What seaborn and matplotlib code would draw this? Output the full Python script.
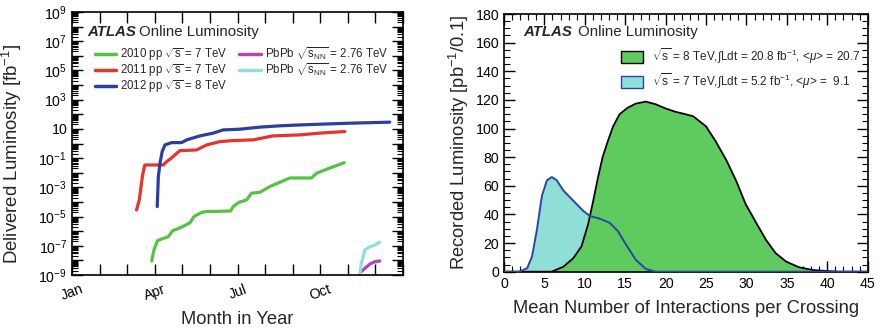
import numpy as np
import pandas as pd
import matplotlib
matplotlib.use("Agg")
import matplotlib.pyplot as plt
import matplotlib.ticker as mticker
from matplotlib.lines import Line2D
from matplotlib.patches import Patch
import seaborn as sns

# ---------------- data: left panel (month as float, log10 luminosity) -------------
m2010 = [2.89, 2.97, 3.10, 3.31, 3.49, 3.65, 3.97, 4.28, 4.42, 4.70, 4.88, 5.75, 5.84,
         6.06, 6.33, 6.51, 6.81, 7.17, 7.54, 7.90, 8.68, 8.87, 9.23, 9.59, 9.87]
l2010 = [-8.04, -7.29, -6.65, -6.49, -6.38, -5.97, -5.73, -5.42, -5.01, -4.71, -4.66, -4.62,
         -4.32, -4.02, -3.86, -3.40, -3.34, -2.95, -2.65, -2.36, -2.36, -2.03, -1.76, -1.51, -1.31]
m2011 = [2.34, 2.44, 2.56, 2.64, 3.31, 3.43, 3.55, 3.91, 4.52, 4.88, 5.36, 5.84, 6.57,
         7.29, 8.26, 8.99, 9.89]
l2011 = [-4.55, -3.86, -2.15, -1.47, -1.47, -1.24, -1.08, -0.49, -0.44, -0.10, 0.13, 0.20,
         0.25, 0.52, 0.59, 0.71, 0.82]
m2012 = [3.09, 3.13, 3.19, 3.27, 3.37, 3.61, 3.97, 4.16, 4.64, 5.12, 5.48, 6.09, 6.81,
         7.54, 8.26, 8.99, 10.07, 11.52]
l2012 = [-4.32, -2.27, -1.35, -0.55, -0.10, 0.06, 0.06, 0.25, 0.52, 0.71, 0.93, 0.98, 1.12,
         1.21, 1.27, 1.32, 1.39, 1.46]
mPb10 = [10.49, 10.62, 10.80, 10.98, 11.16]
lPb10 = [-8.77, -8.54, -8.25, -8.09, -8.04]
mPb11 = [10.43, 10.49, 10.62, 10.80, 10.98, 11.16]
lPb11 = [-9.0, -8.2, -7.29, -7.06, -6.95, -6.76]

month_ticks = [0, 3, 6, 9]
month_labels = ["Jan", "Apr", "Jul", "Oct"]

# ---------------- data: right panel (pile-up distributions) -------------
mu8 = [0, 4.5, 5.9, 7.35, 8.57, 9.59, 10.4, 11.0, 11.6, 12.2, 12.9, 13.5, 14.3, 15.3,
       16.3, 17.55, 18.8, 20.0, 21.2, 22.3, 23.4, 25.0, 26.2, 27.5, 28.7, 29.9, 31.2,
       32.4, 33.6, 34.9, 36.5, 38.2, 39.8, 41.4, 45]
lum8 = [0, 0, 0, 3.5, 9.4, 17.7, 33, 48.4, 65, 80, 92, 101.5, 110, 114.5,
        117.4, 118.8, 116.9, 114, 111.7, 110.2, 108.6, 101.5, 91, 78, 63.8, 47.2, 34.2,
        22.4, 13, 7.1, 3.1, 1.2, 0.5, 0, 0]
mu7 = [0, 1.84, 2.86, 3.47, 4.08, 4.69, 5.31, 5.92, 6.53, 7.35, 8.57, 9.8, 10.6, 11.8,
       13.06, 14.1, 15.1, 16.3, 17.55, 18.8, 45]
lum7 = [0, 0, 2.4, 10.6, 29.5, 53, 63.8, 66.1, 63.8, 56.7, 49.6, 42.5, 39, 37.1,
        34.2, 28.3, 18.9, 8.3, 1.9, 0, 0]

# ---------------- style -------------
sns.set_theme(style="ticks")
plt.rcParams["font.family"] = ["Liberation Sans", "DejaVu Sans"]
plt.rcParams["mathtext.fontset"] = "custom"
plt.rcParams["mathtext.rm"] = "Liberation Sans"
plt.rcParams["mathtext.it"] = "Liberation Sans:italic"
plt.rcParams["mathtext.bf"] = "Liberation Sans:bold"
plt.rcParams["axes.linewidth"] = 1.2
plt.rcParams["axes.edgecolor"] = "black"

fig = plt.figure(figsize=(8.82, 3.30), dpi=100)
ax1 = fig.add_axes([72/882, 1-275/330, 331/882, 263/330])
ax2 = fig.add_axes([504/882, 1-271.7/330, 363.7/882, 257.7/330])

tick_fs = 10.2
lab_fs = 13.2
atlas_fs = 10.8

# ---- left panel ----
c2010, c2011, c2012 = "#55c244", "#e8332a", "#2b3fa3"
cPb10, cPb11 = "#b544b5", "#8fe0da"
series = [(m2010, l2010, c2010), (m2011, l2011, c2011), (m2012, l2012, c2012),
          (mPb10, lPb10, cPb10), (mPb11, lPb11, cPb11)]
for mx, ly, col in series:
    df = pd.DataFrame({"m": mx, "L": np.power(10.0, ly)})
    sns.lineplot(data=df, x="m", y="L", ax=ax1, color=col, lw=2.3, sort=False,
                 estimator=None)
ax1.set_yscale("log")
ax1.set_ylim(1e-9, 1e9)
ax1.set_xlim(0, 12)
ax1.yaxis.set_major_locator(mticker.FixedLocator([10.0**k for k in range(-9, 10)]))
ylabels = []
for k in range(-9, 10):
    if k % 2 == 0:
        ylabels.append("")
    elif k == 1:
        ylabels.append("10")
    else:
        ylabels.append(r"$10^{%d}$" % k)
ax1.yaxis.set_major_formatter(mticker.FixedFormatter(ylabels))
ax1.yaxis.set_minor_locator(mticker.LogLocator(base=10, subs=np.arange(2, 10), numticks=100))
ax1.yaxis.set_minor_formatter(mticker.NullFormatter())
ax1.xaxis.set_major_locator(mticker.FixedLocator(list(range(0, 13))))
ax1.xaxis.set_major_formatter(mticker.FixedFormatter(
    [month_labels[month_ticks.index(i)] if i in month_ticks else "" for i in range(13)]))
ax1.tick_params(axis="both", which="both", direction="in", top=True, right=True,
                labelsize=tick_fs, colors="black")
ax1.tick_params(axis="both", which="major", length=8, width=1)
ax1.tick_params(axis="y", which="minor", length=4.5, width=0.8)
ax1.tick_params(axis="x", which="major", pad=5)
for t in ax1.get_xticklabels():
    t.set_rotation(20)
ax1.set_xlabel("Month in Year", fontsize=lab_fs, labelpad=6)
ax1.set_ylabel(r"Delivered Luminosity [fb$^{-1}$]", fontsize=13.4)
ax1.yaxis.set_label_coords(-0.145, 0.462)
ax1.text(0.045, 0.924, "ATLAS", transform=ax1.transAxes, fontsize=atlas_fs,
         fontweight="bold", fontstyle="italic", va="center", ha="left")
ax1.text(0.202, 0.924, "Online Luminosity", transform=ax1.transAxes, fontsize=atlas_fs,
         va="center", ha="left")
h1 = [Line2D([], [], color=c, lw=2.5) for c in [c2010, c2011, c2012, cPb10, cPb11]]
lab1 = [r"2010 pp $\sqrt{\mathrm{s}}$ = 7 TeV", r"2011 pp $\sqrt{\mathrm{s}}$ = 7 TeV",
        r"2012 pp $\sqrt{\mathrm{s}}$ = 8 TeV",
        r"PbPb $\sqrt{\mathrm{s}_{\mathrm{NN}}}$ = 2.76 TeV",
        r"PbPb $\sqrt{\mathrm{s}_{\mathrm{NN}}}$ = 2.76 TeV"]
ax1.legend(h1, lab1, ncol=2, loc="upper left", bbox_to_anchor=(0.068, 0.875),
           frameon=False, fontsize=8.3, handlelength=1.9, handletextpad=0.35,
           columnspacing=1.0, labelspacing=-0.05, borderaxespad=0, borderpad=0)

# ---- right panel ----
fill8, fill7, edge7 = "#5fcb5f", "#8fdfd8", "#2b44a8"
ax2.fill_between(mu7, lum7, 0, color=fill7, lw=0, zorder=1)
ax2.fill_between(mu8, lum8, 0, color=fill8, lw=0, zorder=2)
sns.lineplot(x=mu8, y=lum8, ax=ax2, color="black", lw=1.3, sort=False, estimator=None,
             zorder=3)
sns.lineplot(x=mu7, y=lum7, ax=ax2, color=edge7, lw=1.4, sort=False, estimator=None,
             zorder=4)
ax2.set_xlim(0, 45)
ax2.set_ylim(0, 180)
ax2.xaxis.set_major_locator(mticker.MultipleLocator(5))
ax2.xaxis.set_minor_locator(mticker.MultipleLocator(1))
ax2.yaxis.set_major_locator(mticker.MultipleLocator(20))
ax2.yaxis.set_minor_locator(mticker.MultipleLocator(5))
ax2.tick_params(axis="both", which="both", direction="in", top=True, right=True,
                labelsize=tick_fs, colors="black")
ax2.tick_params(axis="both", which="major", length=8, width=1)
ax2.tick_params(axis="both", which="minor", length=4, width=0.8)
ax2.set_xlabel("Mean Number of Interactions per Crossing", fontsize=lab_fs, labelpad=7)
ax2.set_ylabel(r"Recorded Luminosity [pb$^{-1}$/0.1]", fontsize=lab_fs, labelpad=3)
ax2.text(0.053, 0.929, "ATLAS", transform=ax2.transAxes, fontsize=atlas_fs,
         fontweight="bold", fontstyle="italic", va="center", ha="left")
ax2.text(0.204, 0.929, "Online Luminosity", transform=ax2.transAxes, fontsize=atlas_fs,
         va="center", ha="left")
h2 = [Patch(facecolor=fill8, edgecolor="black", lw=1.0),
      Patch(facecolor=fill7, edgecolor=edge7, lw=1.0)]
lab2 = [r"$\sqrt{\mathrm{s}}$ = 8 TeV,$\int$Ldt = 20.8 fb$^{-1}$, <$\mu$> = 20.7",
        r"$\sqrt{\mathrm{s}}$ = 7 TeV,$\int$Ldt = 5.2 fb$^{-1}$, <$\mu$> =  9.1"]
ax2.legend(h2, lab2, loc="upper right", bbox_to_anchor=(0.98, 0.875), frameon=False,
           fontsize=8.5, handlelength=1.8, handleheight=1.1, handletextpad=0.8,
           labelspacing=0.45, borderaxespad=0, borderpad=0, alignment="left")

fig.savefig("out.png", dpi=100)
